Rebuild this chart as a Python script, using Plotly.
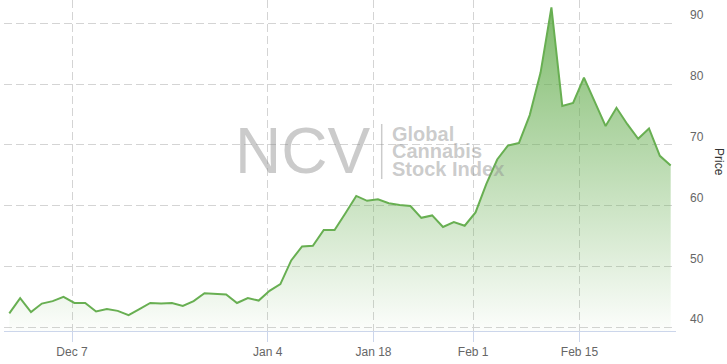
import numpy as np
import pandas as pd
import plotly.graph_objects as go

# ---------------- data ----------------
holidays = ["2020-12-25", "2021-01-01", "2021-01-18", "2021-02-15"]
dates = [d for d in pd.bdate_range("2020-11-27", "2021-02-26") if d.strftime("%Y-%m-%d") not in holidays]

prices = [
    42.3, 44.8, 42.5, 43.9, 44.3, 45.0, 44.0, 44.0, 42.6, 43.0,
    42.7, 42.0, 43.0, 44.0, 43.9, 44.0, 43.5, 44.3, 45.6, 45.5,
    45.4, 44.0, 44.8, 44.4, 46.0, 47.1, 51.0, 53.3, 53.4, 56.0,
    56.0, 58.75, 61.6, 60.8, 61.05, 60.4, 60.1, 59.95, 58.0, 58.4,
    56.5, 57.3, 56.7, 58.9, 63.6, 67.6, 69.9, 70.3, 74.9, 81.9,
    92.6, 76.4, 76.9, 81.05, 77.1, 73.1, 76.1, 73.4, 71.0, 72.7,
    68.2, 66.6,
]

tick_dates = ["2020-12-07", "2021-01-04", "2021-01-18", "2021-02-01", "2021-02-15"]
tick_labels = ["Dec 7", "Jan 4", "Jan 18", "Feb 1", "Feb 15"]

y_ticks = [40, 50, 60, 70, 80, 90]

watermark_big = "NCV"
watermark_lines = ["Global", "Cannabis", "Stock Index"]

# ---------------- ordinal axis (points evenly spaced, ticks interpolated by time) ----------------
idx = np.arange(len(prices))
close_offset = pd.Timedelta(hours=15.5)
pt_ts = np.array([(d + close_offset).value for d in dates], dtype=float)
tk_ts = np.array([pd.Timestamp(t).value for t in tick_dates], dtype=float)
tick_pos = np.interp(tk_ts, pt_ts, idx)

W, H = 727, 364
L, R, T, B = 4, 51, 0, 33
pw, ph = W - L - R, H - T - B
y_min, y_max = 39.39, 93.83
pad = 0.49

def px_x(px):
    return (px - L) / pw

def px_y(py):
    return (H - B - py) / ph

line_rgb = "104,175,82"

fig = go.Figure()
fig.add_trace(go.Scatter(
    x=idx, y=prices, mode="lines",
    line=dict(color=f"rgb({line_rgb})", width=2),
    fill="tozeroy",
    fillgradient=dict(
        type="vertical",
        start=y_min, stop=max(prices),
        colorscale=[[0, f"rgba({line_rgb},0.02)"], [1, f"rgba({line_rgb},0.85)"]],
    ),
    hoverinfo="skip",
))

grid = "#d4d4d4"
font_family = "Liberation Sans, Arial, sans-serif"

fig.update_layout(
    width=W, height=H,
    margin=dict(l=L, r=R, t=T, b=B, pad=0),
    paper_bgcolor="white", plot_bgcolor="white",
    showlegend=False,
    font=dict(family=font_family, size=12, color="#666666"),
    xaxis=dict(
        range=[-pad, len(prices) - 1 + pad],
        tickmode="array", tickvals=tick_pos, ticktext=tick_labels,
        showgrid=True, gridcolor=grid, griddash="8px,4px", gridwidth=1,
        showline=True, linecolor="#ccd6eb", linewidth=1,
        ticks="outside", ticklen=10, tickcolor="#ccd6eb", tickwidth=1,
        tickfont=dict(size=12, color="#666666"),
        zeroline=False, fixedrange=True,
    ),
    yaxis=dict(
        range=[y_min, y_max], side="right",
        tickmode="array", tickvals=y_ticks, ticktext=[str(v) for v in y_ticks],
        showgrid=True, gridcolor=grid, griddash="8px,4px", gridwidth=1,
        showline=False, ticks="", zeroline=False,
        ticklabelshift=-8, ticklabelstandoff=13,
        tickfont=dict(size=12, color="#666666"),
        fixedrange=True,
    ),
)

# axis title (reads top-to-bottom)
fig.add_annotation(
    text="Price", xref="paper", yref="paper",
    x=px_x(719), y=px_y(162), xanchor="center", yanchor="middle",
    textangle=90, showarrow=False,
    font=dict(family=font_family, size=12, color="#333333"),
)

# watermark
wm_color = "rgba(140,140,140,0.45)"
fig.add_annotation(
    text=watermark_big, xref="paper", yref="paper",
    x=px_x(302), y=px_y(150.5), xanchor="center", yanchor="middle",
    showarrow=False,
    font=dict(family=font_family, size=64, color=wm_color),
)
fig.add_shape(
    type="line", xref="paper", yref="paper",
    x0=px_x(381.7), x1=px_x(381.7), y0=px_y(124), y1=px_y(179),
    line=dict(color=wm_color, width=1.5),
)
for i, txt in enumerate(watermark_lines):
    fig.add_annotation(
        text=f"<b>{txt}</b>", xref="paper", yref="paper",
        x=px_x(390), y=px_y(133.7 + 17.6 * i), xanchor="left", yanchor="middle",
        showarrow=False, align="left",
        font=dict(family=font_family, size=20, color=wm_color),
    )

fig.write_html("out.html", config={"displayModeBar": False, "staticPlot": True})
